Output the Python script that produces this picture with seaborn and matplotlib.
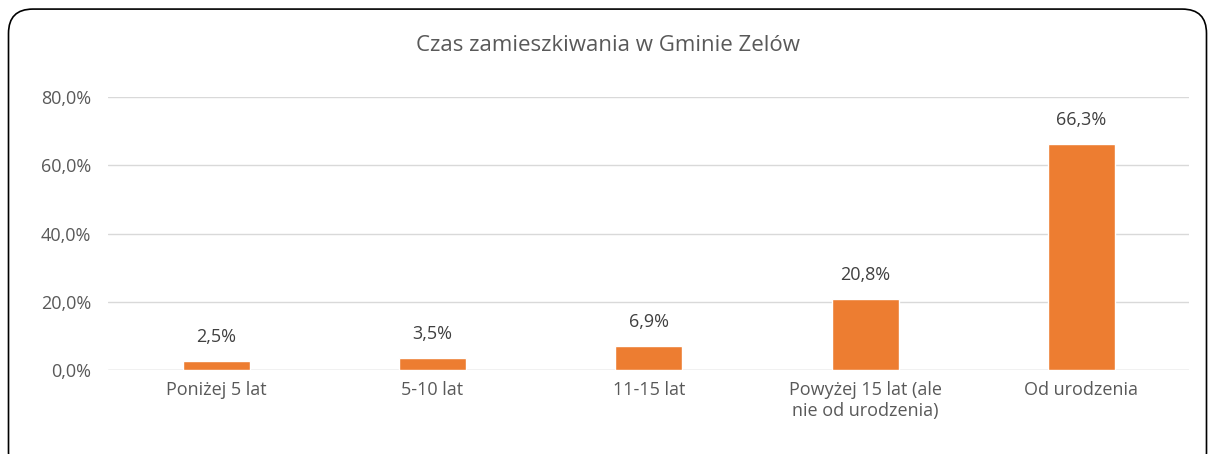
import matplotlib.pyplot as plt
import seaborn as sns
from matplotlib.patches import FancyBboxPatch

categories = ["Poniżej 5 lat", "5-10 lat", "11-15 lat",
              "Powyżej 15 lat (ale\nnie od urodzenia)", "Od urodzenia"]
values = [2.5, 3.5, 6.9, 20.8, 66.3]
yticks = [0, 20, 40, 60, 80]

sns.set_style("white")
plt.rcParams['font.family'] = ['Open Sans', 'DejaVu Sans']

fig = plt.figure(figsize=(12.15, 4.54), dpi=100)
ax = fig.add_axes([0.089, 0.185, 0.89, 0.601])

sns.barplot(x=categories, y=values, color="#ED7D31", saturation=1, width=0.31,
            ax=ax, zorder=3)

ax.set_ylim(0, 80)
ax.set_yticks(yticks)
ax.set_yticklabels([f"{t:.1f}%".replace(".", ",") for t in yticks])
ax.yaxis.grid(True, color="#D9D9D9", linewidth=1, zorder=0)
for s in ax.spines.values():
    s.set_visible(False)
ax.axhline(0, color="#D9D9D9", linewidth=1, zorder=1)
ax.tick_params(axis="both", length=0, labelsize=13, labelcolor="#595959", pad=8)
ax.tick_params(axis="y", pad=12)

for i, v in enumerate(values):
    ax.text(i, v + 4.5, f"{v:.1f}%".replace(".", ","), ha="center", va="bottom",
            fontsize=13, color="#404040")

fig.text(0.5, 0.9, "Czas zamieszkiwania w Gminie Zelów", ha="center", va="center",
         fontsize=16, color="#595959")

border = FancyBboxPatch((0.007, -0.05), 0.986, 1.03, boxstyle="round,pad=0,rounding_size=0.02",
                        transform=fig.transFigure, fill=False, edgecolor="black", linewidth=1.2,
                        mutation_aspect=1215 / 454)
fig.patches.append(border)

fig.savefig("out.png", dpi=100)
